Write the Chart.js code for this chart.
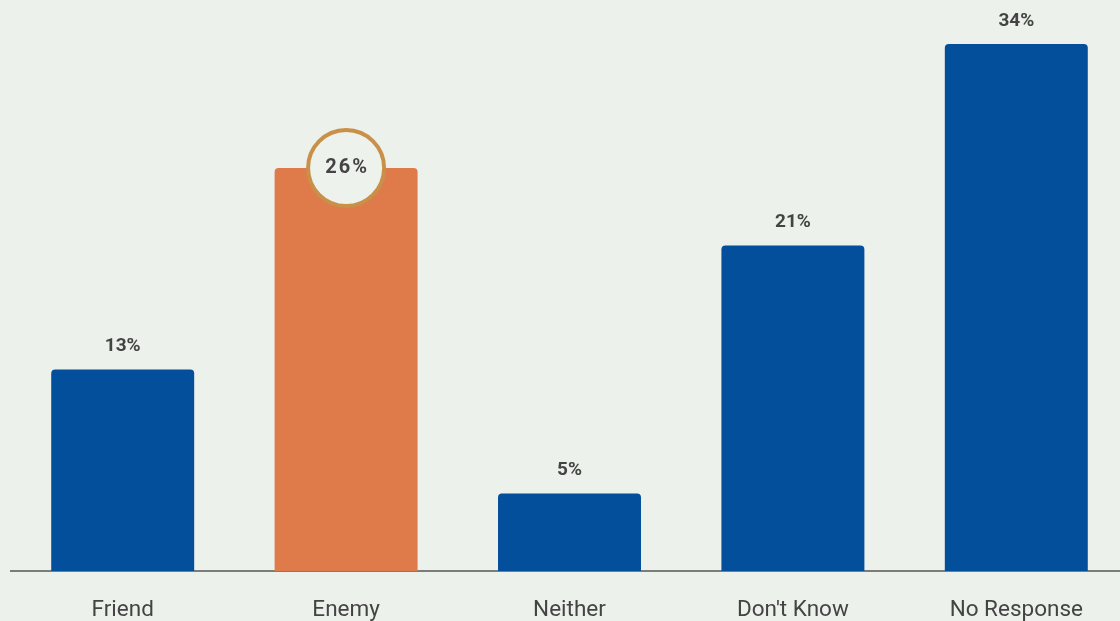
<!DOCTYPE html>
<html>
<head>
<meta charset="utf-8">
<script src="https://cdn.jsdelivr.net/npm/chart.js@4"></script>
<style>
  html, body { margin: 0; padding: 0; background: #edf1ec; overflow: hidden; }
  #wrap { width: 1128px; height: 621px; }
</style>
</head>
<body>
<div id="wrap"><canvas id="chart1" width="1128" height="621"></canvas></div>
<script>
const categories = ["Friend", "Enemy", "Neither", "Don't Know", "No Response"];
const values = [13, 26, 5, 21, 34];
const highlightIndex = 1;

const blue = "#034f9b";
const orange = "#df7b4a";

// value labels above bars, circled badge for the highlighted bar
const valueLabels = {
  id: "valueLabels",
  afterDatasetsDraw(chart) {
    const ctx = chart.ctx;
    const meta = chart.getDatasetMeta(0);
    meta.data.forEach((bar, i) => {
      ctx.save();
      ctx.textAlign = "center";
      ctx.textBaseline = "middle";
      ctx.fillStyle = "#444";
      if (i === highlightIndex) {
        ctx.beginPath();
        ctx.arc(bar.x, bar.y, 38, 0, Math.PI * 2);
        ctx.fillStyle = "#eef2ed";
        ctx.fill();
        ctx.lineWidth = 4;
        ctx.strokeStyle = "#c9904a";
        ctx.stroke();
        ctx.fillStyle = "#444";
        ctx.font = "bold 20px Roboto";
        ctx.letterSpacing = "2px";
        ctx.fillText(values[i] + "%", bar.x + 1, bar.y);
      } else {
        ctx.font = "bold 19px Roboto";
        ctx.fillText(values[i] + "%", bar.x, bar.y - 23);
      }
      ctx.restore();
    });
  },
};

const chart1 = document.getElementById("chart1").getContext("2d");
const mainChart = new Chart(chart1, {
  type: "bar",
  data: {
    labels: categories,
    datasets: [
      {
        data: values,
        backgroundColor: values.map((v, i) => (i === highlightIndex ? orange : blue)),
        borderRadius: { topLeft: 4, topRight: 4 },
        borderSkipped: "bottom",
        categoryPercentage: 0.64,
        barPercentage: 1,
      },
    ],
  },
  plugins: [valueLabels],
  options: {
    responsive: false,
    animation: false,
    layout: { padding: { top: 44, left: 11, right: 0, bottom: -29 } },
    plugins: { legend: { display: false }, tooltip: { enabled: false } },
    scales: {
      x: {
        grid: { display: false, drawTicks: false },
        border: { display: true, color: "#7a7d7a", width: 2 },
        ticks: { color: "#444", font: { family: "Roboto", size: 22.5 }, padding: 26 },
      },
      y: {
        display: false,
        min: 0,
        max: 34,
      },
    },
  },
});
</script>
</body>
</html>
